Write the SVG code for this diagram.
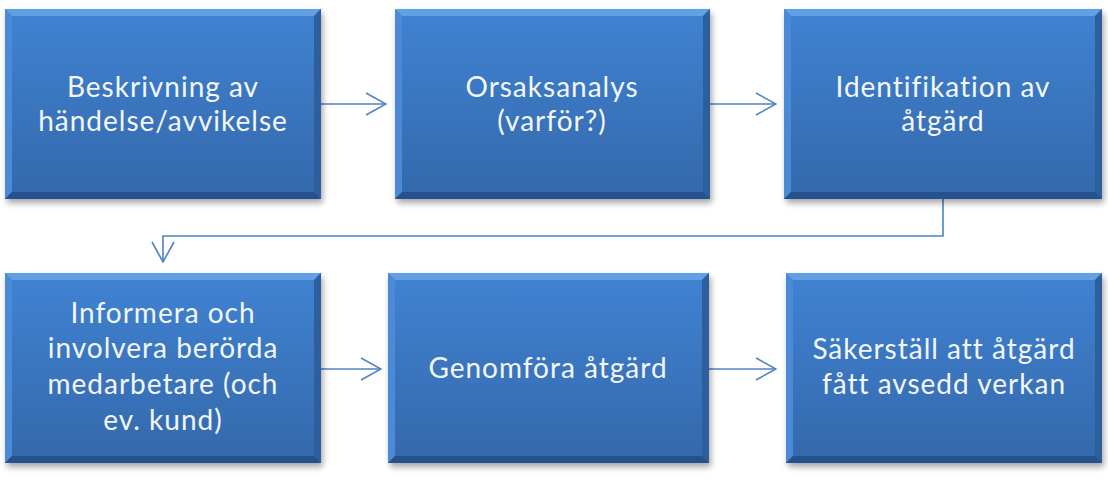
<svg xmlns="http://www.w3.org/2000/svg" width="1108" height="494" viewBox="0 0 1108 494">
<defs>
<linearGradient id="face" x1="0" y1="0" x2="0" y2="1">
<stop offset="0" stop-color="#4083d2"/>
<stop offset="1" stop-color="#3468ab"/>
</linearGradient>
<filter id="sh" x="-10%" y="-10%" width="120%" height="130%">
<feGaussianBlur stdDeviation="3"/>
</filter>
<marker id="arr" viewBox="0 0 22 24" refX="21" refY="12" markerWidth="22" markerHeight="24" markerUnits="userSpaceOnUse" orient="auto">
<path d="M1,1 L21,12 L1,23" fill="none" stroke="#4f83c4" stroke-width="1.6"/>
</marker>
</defs>
<style>
.shadow{fill:#000;opacity:0.35}
.face{fill:url(#face)}
.bt{fill:#62a0e6}
.bl{fill:#4a8ad6}
.br{fill:#2d5f9f}
.bb{fill:#25528c}
.lbl{font-family:Lato,"Open Sans","Liberation Sans",sans-serif;font-size:28px;letter-spacing:1px;fill:#f3f6fb;text-anchor:middle}
.conn{fill:none;stroke:#4f83c4;stroke-width:1.6}
</style>
<g id="connectors">
<path class="conn" d="M321,104 H386" marker-end="url(#arr)"/>
<path class="conn" d="M710,104 H776" marker-end="url(#arr)"/>
<path class="conn" d="M943,199 V236 H163 V262" marker-end="url(#arr)"/>
<path class="conn" d="M321,369 H381" marker-end="url(#arr)"/>
<path class="conn" d="M709,369 H776" marker-end="url(#arr)"/>
</g>
<g id="n1">
<rect class="shadow" x="7" y="13" width="316" height="190" filter="url(#sh)"/>
<rect class="face" x="5" y="9" width="316" height="190"/>
<polygon class="bt" points="5,9 321,9 314,16 12,16"/>
<polygon class="bl" points="5,9 12,16 12,192 5,199"/>
<polygon class="br" points="321,9 321,199 314,192 314,16"/>
<polygon class="bb" points="5,199 12,192 314,192 321,199"/>
<text class="lbl" x="163" y="97">Beskrivning av</text>
<text class="lbl" x="163" y="131">händelse/avvikelse</text>
</g>
<g id="n2">
<rect class="shadow" x="397" y="13" width="315" height="190" filter="url(#sh)"/>
<rect class="face" x="395" y="9" width="315" height="190"/>
<polygon class="bt" points="395,9 710,9 703,16 402,16"/>
<polygon class="bl" points="395,9 402,16 402,192 395,199"/>
<polygon class="br" points="710,9 710,199 703,192 703,16"/>
<polygon class="bb" points="395,199 402,192 703,192 710,199"/>
<text class="lbl" x="552" y="97">Orsaksanalys</text>
<text class="lbl" x="552" y="131">(varför?)</text>
</g>
<g id="n3">
<rect class="shadow" x="786" y="13" width="318" height="190" filter="url(#sh)"/>
<rect class="face" x="784" y="9" width="318" height="190"/>
<polygon class="bt" points="784,9 1102,9 1095,16 791,16"/>
<polygon class="bl" points="784,9 791,16 791,192 784,199"/>
<polygon class="br" points="1102,9 1102,199 1095,192 1095,16"/>
<polygon class="bb" points="784,199 791,192 1095,192 1102,199"/>
<text class="lbl" x="943" y="97">Identifikation av</text>
<text class="lbl" x="943" y="131">åtgärd</text>
</g>
<g id="n4">
<rect class="shadow" x="7" y="277" width="316" height="190" filter="url(#sh)"/>
<rect class="face" x="5" y="273" width="316" height="190"/>
<polygon class="bt" points="5,273 321,273 314,280 12,280"/>
<polygon class="bl" points="5,273 12,280 12,456 5,463"/>
<polygon class="br" points="321,273 321,463 314,456 314,280"/>
<polygon class="bb" points="5,463 12,456 314,456 321,463"/>
<text class="lbl" x="163" y="323">Informera och</text>
<text class="lbl" x="163" y="358">involvera berörda</text>
<text class="lbl" x="163" y="394">medarbetare (och</text>
<text class="lbl" x="163" y="430">ev. kund)</text>
</g>
<g id="n5">
<rect class="shadow" x="390" y="277" width="321" height="190" filter="url(#sh)"/>
<rect class="face" x="388" y="273" width="321" height="190"/>
<polygon class="bt" points="388,273 709,273 702,280 395,280"/>
<polygon class="bl" points="388,273 395,280 395,456 388,463"/>
<polygon class="br" points="709,273 709,463 702,456 702,280"/>
<polygon class="bb" points="388,463 395,456 702,456 709,463"/>
<text class="lbl" x="548" y="378">Genomföra åtgärd</text>
</g>
<g id="n6">
<rect class="shadow" x="788" y="277" width="316" height="190" filter="url(#sh)"/>
<rect class="face" x="786" y="273" width="316" height="190"/>
<polygon class="bt" points="786,273 1102,273 1095,280 793,280"/>
<polygon class="bl" points="786,273 793,280 793,456 786,463"/>
<polygon class="br" points="1102,273 1102,463 1095,456 1095,280"/>
<polygon class="bb" points="786,463 793,456 1095,456 1102,463"/>
<text class="lbl" x="944" y="359">Säkerställ att åtgärd</text>
<text class="lbl" x="944" y="394">fått avsedd verkan</text>
</g>
</svg>
